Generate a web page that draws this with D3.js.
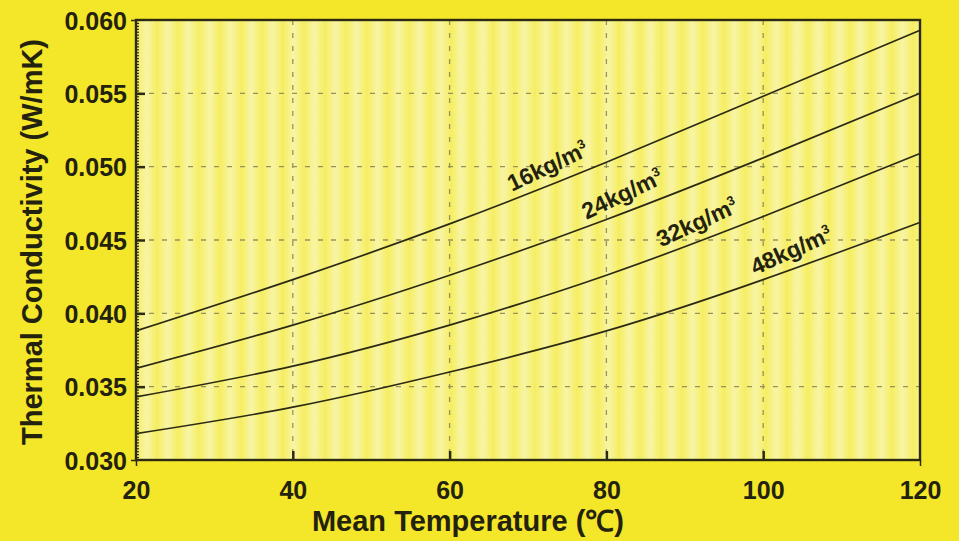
<!DOCTYPE html>
<html>
<head>
<meta charset="utf-8">
<script src="https://cdn.jsdelivr.net/npm/d3@7"></script>
<style>
  body { margin: 0; background: #f4e629; }
  svg { display: block; }
  .tick text { font-family: "Liberation Sans", Arial, sans-serif; font-size: 25px; font-weight: bold; fill: #23220f; }
  .title { font-family: "Liberation Sans", Arial, sans-serif; font-size: 29px; font-weight: bold; fill: #23220f; }
  .curve-label { font-family: "Liberation Sans", Arial, sans-serif; font-size: 23px; font-weight: bold; fill: #23220f; }
</style>
</head>
<body>
<div id="chart"></div>
<script>
// values, conductivity in W/mK
var temps = [20, 40, 60, 80, 100, 120];
var k16 = [0.0388, 0.0423, 0.0461, 0.0503, 0.0548, 0.0593];
var k24 = [0.03625, 0.0392, 0.0426, 0.0464, 0.0506, 0.0550];
var k32 = [0.0343, 0.0364, 0.0392, 0.0426, 0.0466, 0.0509];
var k48 = [0.0318, 0.0336, 0.0360, 0.0388, 0.0423, 0.0462];
var densities = ["16", "24", "32", "48"];
var labelTemps = [73.5, 83, 92.5, 104.5];   // where each curve is labelled
var xTicks = [20, 40, 60, 80, 100, 120];
var yTicks = [0.030, 0.035, 0.040, 0.045, 0.050, 0.055, 0.060];

var series = [k16, k24, k32, k48];

var width = 959, height = 541;
var margin = {top: 20, right: 39, bottom: 81, left: 136};
var w = width - margin.left - margin.right;
var h = height - margin.top - margin.bottom;

var svg = d3.select("#chart").append("svg")
    .attr("width", width)
    .attr("height", height);

svg.append("rect")
    .attr("width", width).attr("height", height)
    .attr("fill", "#f4e629");

// soft vertical banding of the plot fill, like the scanned original
var defs = svg.append("defs");
var grad = defs.append("linearGradient")
    .attr("id", "band")
    .attr("x1", "0").attr("x2", "1").attr("y1", "0").attr("y2", "0");
grad.append("stop").attr("offset", "0%").attr("stop-color", "#f5ee62");
grad.append("stop").attr("offset", "50%").attr("stop-color", "#f8f4a6");
grad.append("stop").attr("offset", "100%").attr("stop-color", "#f5ee62");
var pat = defs.append("pattern")
    .attr("id", "stripes")
    .attr("patternUnits", "userSpaceOnUse")
    .attr("width", 21).attr("height", 10);
pat.append("rect").attr("width", 21).attr("height", 10).attr("fill", "url(#band)");

var g = svg.append("g")
    .attr("transform", "translate(" + margin.left + "," + margin.top + ")");

var x = d3.scaleLinear().domain([20, 120]).range([0, w]);
var y = d3.scaleLinear().domain([0.030, 0.060]).range([h, 0]);

g.append("rect")
    .attr("width", w).attr("height", h)
    .attr("fill", "url(#stripes)");

// dashed grid
g.append("g")
    .selectAll("line")
    .data(yTicks.slice(1, -1))
    .enter().append("line")
    .attr("x1", 0).attr("x2", w)
    .attr("y1", function(d) { return y(d); })
    .attr("y2", function(d) { return y(d); })
    .attr("stroke", "#97925a")
    .attr("stroke-width", 1.3)
    .attr("stroke-dasharray", "5,8");

g.append("g")
    .selectAll("line")
    .data(xTicks.slice(1, -1))
    .enter().append("line")
    .attr("y1", 0).attr("y2", h)
    .attr("x1", function(d) { return x(d); })
    .attr("x2", function(d) { return x(d); })
    .attr("stroke", "#97925a")
    .attr("stroke-width", 1.3)
    .attr("stroke-dasharray", "5,8");

// curves
var line = d3.line()
    .x(function(d, i) { return x(temps[i]); })
    .y(function(d) { return y(d); })
    .curve(d3.curveNatural);

g.selectAll(".curve")
    .data(series)
    .enter().append("path")
    .attr("class", "curve")
    .attr("d", line)
    .attr("fill", "none")
    .attr("stroke", "#2c2a12")
    .attr("stroke-width", 1.7);

// curve labels, rotated a little steeper than the local slope, as in the original
function valueAt(arr, t) {
    var interp = d3.scaleLinear().domain(temps).range(arr);
    return interp(t);
}

series.forEach(function(arr, i) {
    var t = labelTemps[i];
    var px = x(t), py = y(valueAt(arr, t));
    var dx = x(t + 2) - x(t - 2);
    var dy = y(valueAt(arr, t + 2)) - y(valueAt(arr, t - 2));
    var ang = Math.atan2(dy, dx) * 180 / Math.PI - 4;
    var lab = g.append("text")
        .attr("class", "curve-label")
        .attr("text-anchor", "middle")
        .attr("transform", "translate(" + px + "," + py + ") rotate(" + ang + ") translate(0,-10)");
    lab.append("tspan").text(densities[i] + "kg/m");
    lab.append("tspan").attr("dy", -9).attr("font-size", 13).text("3");
});

// y axis: dense minor ticks, then major ticks and labels
g.append("g")
    .call(d3.axisLeft(y)
        .tickValues(d3.range(0, 151).map(function(i) { return 0.030 + i * 0.0002; }))
        .tickSize(-3).tickFormat(""))
    .call(function(a) {
        a.select(".domain").remove();
        a.selectAll("line").attr("stroke", "#2c2a12").attr("stroke-width", 1.2);
    });

g.append("g")
    .call(d3.axisLeft(y).tickValues(yTicks.slice(1, -1)).tickSize(-9).tickFormat(""))
    .call(function(a) {
        a.select(".domain").remove();
        a.selectAll("line").attr("stroke", "#2c2a12").attr("stroke-width", 2.5);
    });

g.append("g")
    .call(d3.axisLeft(y).tickValues(yTicks).tickSize(5).tickPadding(4)
        .tickFormat(d3.format(".3f")))
    .call(function(a) {
        a.select(".domain").remove();
        a.selectAll("line").attr("stroke", function(d) {
            return (d === 0.030 || d === 0.060) ? "#2c2a12" : "none";
        }).attr("stroke-width", 1.5);
        a.selectAll("text").attr("dy", "0.36em");
    });

// x axis
g.append("g")
    .attr("transform", "translate(0," + h + ")")
    .call(d3.axisBottom(x).tickValues(xTicks.slice(1, -1)).tickSize(-9).tickFormat(""))
    .call(function(a) {
        a.select(".domain").remove();
        a.selectAll("line").attr("stroke", "#2c2a12").attr("stroke-width", 2.5);
    });

g.append("g")
    .attr("transform", "translate(0," + h + ")")
    .call(d3.axisBottom(x).tickValues(xTicks).tickSize(6).tickFormat(d3.format("d")))
    .call(function(a) {
        a.select(".domain").remove();
        a.selectAll("line").attr("stroke", function(d) {
            return (d === 20 || d === 120) ? "#2c2a12" : "none";
        }).attr("stroke-width", 1.5);
        a.selectAll("text").attr("y", 39).attr("dy", 0);
    });

// frame
g.append("rect")
    .attr("width", w).attr("height", h)
    .attr("fill", "none")
    .attr("stroke", "#2c2a12")
    .attr("stroke-width", 2.4);

// titles
svg.append("text")
    .attr("class", "title")
    .attr("text-anchor", "middle")
    .attr("transform", "translate(42," + (margin.top + h / 2 + 2) + ") rotate(-90)")
    .text("Thermal Conductivity (W/mK)");

svg.append("text")
    .attr("class", "title")
    .attr("text-anchor", "middle")
    .attr("x", margin.left + w / 2 - 60)
    .attr("y", 531)
    .text("Mean Temperature (\u2103)");
</script>
</body>
</html>
